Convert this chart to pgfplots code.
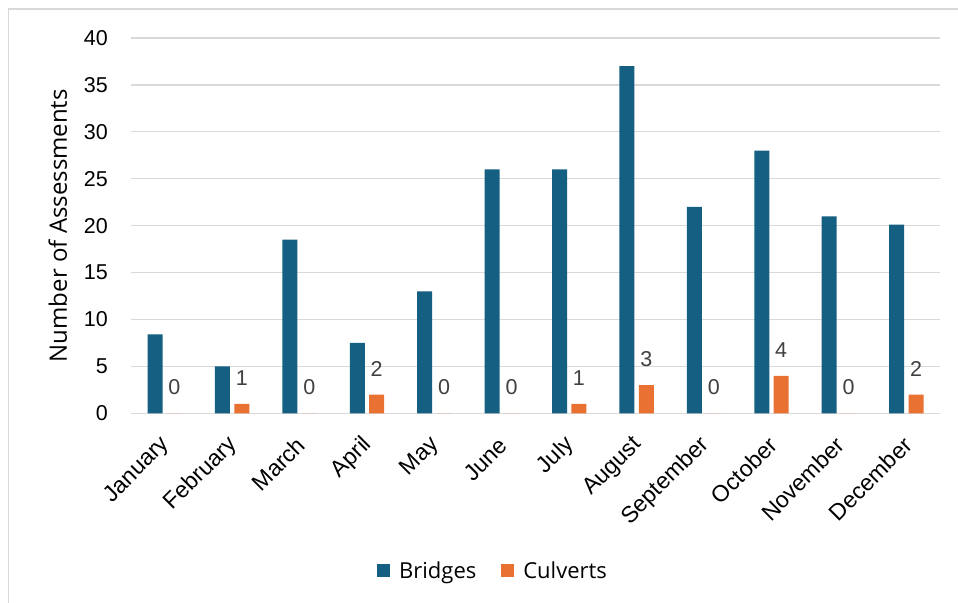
\documentclass[border=0pt]{standalone}
\usepackage{fontspec}
\setmainfont{Liberation Sans}
\newfontfamily\titlefont{Open Sans}
\usepackage{pgfplots}
\pgfplotsset{compat=1.18}
\definecolor{bridgeblue}{HTML}{156082}
\definecolor{culvertorange}{HTML}{E97132}
\definecolor{gridgray}{HTML}{D9D9D9}
\definecolor{labelgray}{HTML}{404040}

\begin{document}
\begin{tikzpicture}
\useasboundingbox (0,0) rectangle (958bp,603bp);
\fill[white] (0,0) rectangle (958bp,603bp);
% chart area frame
\draw[gridgray, line width=1.5bp] (8.5bp,0) -- (8.5bp,594bp) -- (958bp,594bp);
\begin{axis}[
  at={(131bp,189.7bp)}, anchor=south west,
  scale only axis, width=809bp, height=375.3bp,
  ybar, bar width=15bp,
  xmin=-0.5, xmax=11.5, ymin=0, ymax=40,
  xtick={0,1,2,3,4,5,6,7,8,9,10,11},
  xticklabels={January,February,March,April,May,June,July,August,September,October,November,December},
  ytick={0,5,10,15,20,25,30,35,40},
  axis line style={draw=none},
  major tick length=0pt,
  ymajorgrids, grid style={gridgray, line width=1.3bp},
  /pgf/number format/assume math mode=true,
  yticklabel style={anchor=east, inner sep=0pt, xshift=-23bp,
    font=\fontsize{21.5bp}{25bp}\selectfont, text=black},
  xticklabel style={xshift=1.5bp, yshift=-28bp, rotate=45, anchor=east, inner sep=0pt,
    font=\fontsize{23bp}{27bp}\selectfont, text=black},
  ylabel={Number of Assessments},
  ylabel style={at={([xshift=-63.7bp]rel axis cs:0,0.5)}, anchor=south, inner sep=0pt,
    font=\titlefont\fontsize{24bp}{28bp}\selectfont},
  legend style={draw=none, fill=none, at={(0.4475,-0.420)}, anchor=center,
    legend columns=2, font=\titlefont\fontsize{22bp}{26bp}\selectfont,
    /tikz/every odd column/.append style={column sep=7bp},
    /tikz/every even column/.append style={column sep=23bp}},
  legend image code/.code={\fill[#1] (0bp,-6.5bp) rectangle (13bp,6.5bp);},
]
\addplot[fill=bridgeblue, draw=none, bar shift=-9.7bp] coordinates {
  (0,8.4) (1,5) (2,18.5) (3,7.5) (4,13) (5,26) (6,26) (7,37) (8,22) (9,28) (10,21) (11,20.1)
};
\addlegendentry{Bridges}
\addplot[fill=culvertorange, draw=none, bar shift=9.7bp,
  nodes near coords,
  nodes near coords style={anchor=south, inner sep=0pt, yshift=18bp,
    text=labelgray, font=\fontsize{21.5bp}{25bp}\selectfont}] coordinates {
  (0,0) (1,1) (2,0) (3,2) (4,0) (5,0) (6,1) (7,3) (8,0) (9,4) (10,0) (11,2)
};
\addlegendentry{Culverts}
\end{axis}
\end{tikzpicture}
\end{document}
